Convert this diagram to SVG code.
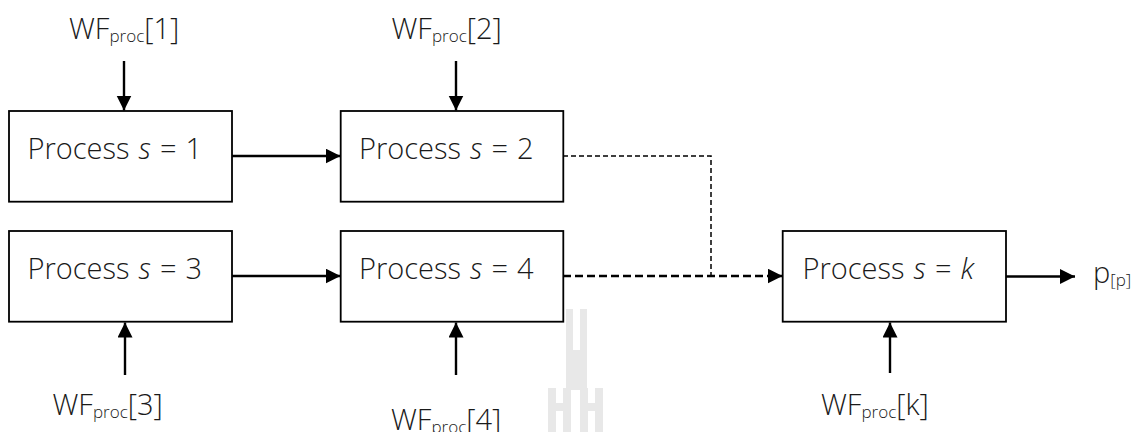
<svg xmlns="http://www.w3.org/2000/svg" width="1137" height="432" viewBox="0 0 1137 432">
  <defs>
    <marker id="arrow" markerUnits="userSpaceOnUse" markerWidth="16" markerHeight="16" refX="15" refY="7.5" orient="auto">
      <path d="M0,0 L15,7.5 L0,15 Z" fill="#000"/>
    </marker>
    <style>
      .box { fill: #fff; stroke: #000; stroke-width: 1.8; }
      .lbl { font-family: "Open Sans", "Noto Sans", "Liberation Sans", sans-serif; font-size: 29px; font-weight: 300; fill: #1a1a1a; }
      .proc { word-spacing: 1.5px; }
      .sub { font-size: 17px; }
      .solid { fill: none; stroke: #000; stroke-width: 2.4; }
      .dash-thin { fill: none; stroke: #000; stroke-width: 1.5; stroke-dasharray: 5 3; }
      .dash-thick { fill: none; stroke: #000; stroke-width: 2.6; stroke-dasharray: 8 4; }
      .mark { fill: #e8e8e8; }
    </style>
  </defs>
  <rect width="1137" height="432" fill="#fff"/>

  <!-- faint logo mark near the bottom -->
  <g id="logo-mark" class="mark">
    <rect x="566" y="309" width="7" height="81"/>
    <rect x="580" y="309" width="7" height="81"/>
    <rect x="573" y="350" width="7" height="40"/>
    <rect x="548" y="388" width="8" height="44"/>
    <rect x="563" y="388" width="8" height="44"/>
    <rect x="556" y="403" width="7" height="8"/>
    <rect x="580" y="388" width="8" height="44"/>
    <rect x="595" y="388" width="8" height="44"/>
    <rect x="588" y="403" width="7" height="8"/>
  </g>

  <!-- connectors -->
  <g id="connectors">
    <line class="solid" x1="124" y1="61" x2="124" y2="110.5" marker-end="url(#arrow)"/>
    <line class="solid" x1="456" y1="61" x2="456" y2="110.5" marker-end="url(#arrow)"/>
    <line class="solid" x1="232" y1="156" x2="340.5" y2="156" marker-end="url(#arrow)"/>
    <line class="solid" x1="232" y1="276" x2="340.5" y2="276" marker-end="url(#arrow)"/>
    <line class="solid" x1="125" y1="375" x2="125" y2="322.5" marker-end="url(#arrow)"/>
    <line class="solid" x1="456" y1="375" x2="456" y2="322.5" marker-end="url(#arrow)"/>
    <line class="solid" x1="890" y1="373" x2="890" y2="322.5" marker-end="url(#arrow)"/>
    <line class="solid" x1="1006" y1="276.5" x2="1075" y2="276.5" marker-end="url(#arrow)"/>
    <polyline class="dash-thin" points="563,156 711,156 711,276"/>
    <line class="dash-thick" x1="563" y1="276" x2="782.5" y2="276" marker-end="url(#arrow)"/>
  </g>

  <!-- process nodes -->
  <g id="process-1">
    <rect class="box" x="9" y="111" width="223" height="90.7"/>
    <text class="lbl proc" x="27.5" y="159">Process <tspan font-style="italic">s</tspan> = 1</text>
  </g>
  <g id="process-2">
    <rect class="box" x="340.7" y="111" width="222.6" height="90.7"/>
    <text class="lbl proc" x="359" y="159">Process <tspan font-style="italic">s</tspan> = 2</text>
  </g>
  <g id="process-3">
    <rect class="box" x="9" y="231" width="223" height="90.7"/>
    <text class="lbl proc" x="27.5" y="279">Process <tspan font-style="italic">s</tspan> = 3</text>
  </g>
  <g id="process-4">
    <rect class="box" x="340.7" y="231" width="222.6" height="90.7"/>
    <text class="lbl proc" x="359" y="279">Process <tspan font-style="italic">s</tspan> = 4</text>
  </g>
  <g id="process-k">
    <rect class="box" x="782.7" y="231" width="223.3" height="90.7"/>
    <text class="lbl proc" x="802.5" y="279">Process <tspan font-style="italic">s</tspan> = <tspan font-style="italic">k</tspan></text>
  </g>

  <!-- input labels -->
  <g id="input-1">
    <text class="lbl" x="69" y="38.5">WF<tspan class="sub" dy="3">proc</tspan><tspan dy="-3">[1]</tspan></text>
  </g>
  <g id="input-2">
    <text class="lbl" x="391.5" y="38.5">WF<tspan class="sub" dy="3">proc</tspan><tspan dy="-3">[2]</tspan></text>
  </g>
  <g id="input-3">
    <text class="lbl" x="52.5" y="415">WF<tspan class="sub" dy="3">proc</tspan><tspan dy="-3">[3]</tspan></text>
  </g>
  <g id="input-4">
    <text class="lbl" x="391" y="429.5">WF<tspan class="sub" dy="3">proc</tspan><tspan dy="-3">[4]</tspan></text>
  </g>
  <g id="input-k">
    <text class="lbl" x="821" y="415">WF<tspan class="sub" dy="3">proc</tspan><tspan dy="-3">[k]</tspan></text>
  </g>

  <!-- output label -->
  <g id="output">
    <text class="lbl" x="1093" y="283">p<tspan class="sub" dy="3">[p]</tspan></text>
  </g>
</svg>
